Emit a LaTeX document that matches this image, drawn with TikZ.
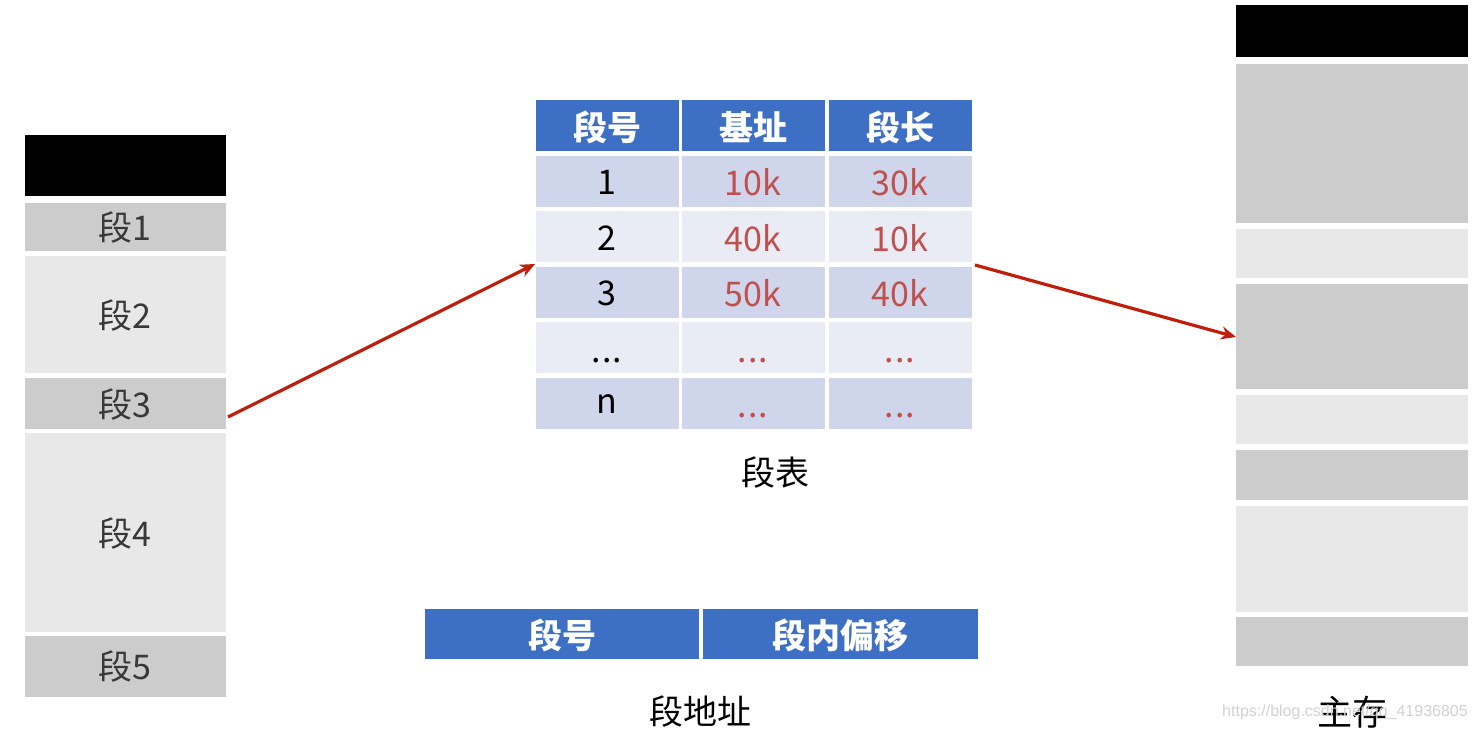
\documentclass[tikz,border=0pt]{standalone}
\usepackage{fontspec}
\setmainfont{Noto Sans CJK SC}
\newfontfamily\cjk{Noto Sans CJK SC}
\newfontfamily\wmfont{Liberation Sans}
\usetikzlibrary{arrows.meta}
\definecolor{segdark}{HTML}{CCCCCC}
\definecolor{seglight}{HTML}{E8E8E8}
\definecolor{hdrblue}{HTML}{3D70C4}
\definecolor{rowdark}{HTML}{CFD5EA}
\definecolor{rowlight}{HTML}{E9EBF5}
\definecolor{valred}{HTML}{C0504D}
\definecolor{arrred}{HTML}{BE1E0A}
\tikzset{
  blk/.style={fill=black, draw=none},
  segd/.style={fill=segdark, draw=none},
  segl/.style={fill=seglight, draw=none},
  hdr/.style={fill=hdrblue, draw=none},
  rd/.style={fill=rowdark, draw=none},
  rl/.style={fill=rowlight, draw=none},
  lbl/.style={font=\cjk\fontsize{34}{38}\selectfont, text=black!78, inner sep=0pt},
  hlbl/.style={font=\cjk\bfseries\fontsize{34}{38}\selectfont, text=white, inner sep=0pt},
  cell/.style={font=\cjk\fontsize{34}{38}\selectfont, inner sep=0pt},
  dots/.style={font=\cjk\fontsize{34}{38}\selectfont, inner sep=0pt, anchor=base},
  captxt/.style={font=\cjk\fontsize{34}{38}\selectfont, text=black, inner sep=0pt},
  arr/.style={draw=arrred, line width=3.2pt, -{Stealth[length=15pt,width=13pt]}},
}
\begin{document}
\begin{tikzpicture}[x=1pt,y=-1pt]
\useasboundingbox (0,0) rectangle (1478,730);
% left column (logical address space)
\fill[blk] (25,135) rectangle (226,196);
\fill[segd] (25,203) rectangle (226,251);
\fill[segl] (25,256) rectangle (226,373);
\fill[segd] (25,378) rectangle (226,429);
\fill[segl] (25,433) rectangle (226,632);
\fill[segd] (25,636) rectangle (226,697);
\node[lbl] (s1) at (125,228) {段1};
\node[lbl] (s2) at (125,316) {段2};
\node[lbl] (s3) at (125,405) {段3};
\node[lbl] (s4) at (125,534) {段4};
\node[lbl] (s5) at (125,667) {段5};
\coordinate (s3r) at (228,417);
% segment table
\def\cA{536}\def\cB{679}\def\cC{682}\def\cD{825}\def\cE{829}\def\cF{972}
\foreach \ya/\yb/\st in {100/151/hdr,156/207/rd,211/262/rl,267/318/rd,322/373/rl,378/429/rd}{
  \fill[\st] (\cA,\ya) rectangle (\cB,\yb);
  \fill[\st] (\cC,\ya) rectangle (\cD,\yb);
  \fill[\st] (\cE,\ya) rectangle (\cF,\yb);
}
\node[hlbl] (h1) at (607,127) {段号};
\node[hlbl] (h2) at (753,127) {基址};
\node[hlbl] (h3) at (900,127) {段长};
\node[cell] (r1a) at (607,182) {1};
\node[cell,text=valred] (r1b) at (753,182) {10k};
\node[cell,text=valred] (r1c) at (900,182) {30k};
\node[cell] (r2a) at (607,238) {2};
\node[cell,text=valred] (r2b) at (753,238) {40k};
\node[cell,text=valred] (r2c) at (900,238) {10k};
\node[cell] (r3a) at (607,293) {3};
\node[cell,text=valred] (r3b) at (753,293) {50k};
\node[cell,text=valred] (r3c) at (900,293) {40k};
\node[dots] (r4a) at (607,362) {.\kern1pt.\kern1pt.};
\node[dots,text=valred] (r4b) at (753,362) {.\kern1pt.\kern1pt.};
\node[dots,text=valred] (r4c) at (900,362) {.\kern1pt.\kern1pt.};
\node[cell] (r5a) at (607,404) {n};
\node[dots,text=valred] (r5b) at (753,417) {.\kern1pt.\kern1pt.};
\node[dots,text=valred] (r5c) at (900,417) {.\kern1pt.\kern1pt.};
\coordinate (tblL) at (535,264);
\coordinate (tblR) at (975,265);
\node[captxt] (tcap) at (775,473) {段表};
% segment address
\fill[hdr] (425,609) rectangle (699,659);
\fill[hdr] (703,609) rectangle (978,659);
\node[hlbl] (a1) at (562,635) {段号};
\node[hlbl] (a2) at (840,635) {段内偏移};
\node[captxt] (acap) at (700,712) {段地址};
% main memory
\fill[blk] (1236,5) rectangle (1468,57);
\fill[segd] (1236,64) rectangle (1468,223);
\fill[segl] (1236,229) rectangle (1468,278);
\fill[segd] (1236,284) rectangle (1468,389);
\fill[segl] (1236,395) rectangle (1468,444);
\fill[segd] (1236,450) rectangle (1468,500);
\fill[segl] (1236,506) rectangle (1468,612);
\fill[segd] (1236,617) rectangle (1468,666);
\coordinate (memL) at (1236,337);
\node[captxt,font=\cjk\fontsize{35}{38}\selectfont] (mcap) at (1352,712) {主存};
\node[font=\wmfont\fontsize{16}{18}\selectfont, text=black!18, inner sep=0pt] (wm) at (1345,712) {https://blog.csdn.net/qq\_41936805};
% arrows
\draw[arr] (s3r) -- (tblL);
\draw[arr] (tblR) -- (memL);
\end{tikzpicture}
\end{document}
